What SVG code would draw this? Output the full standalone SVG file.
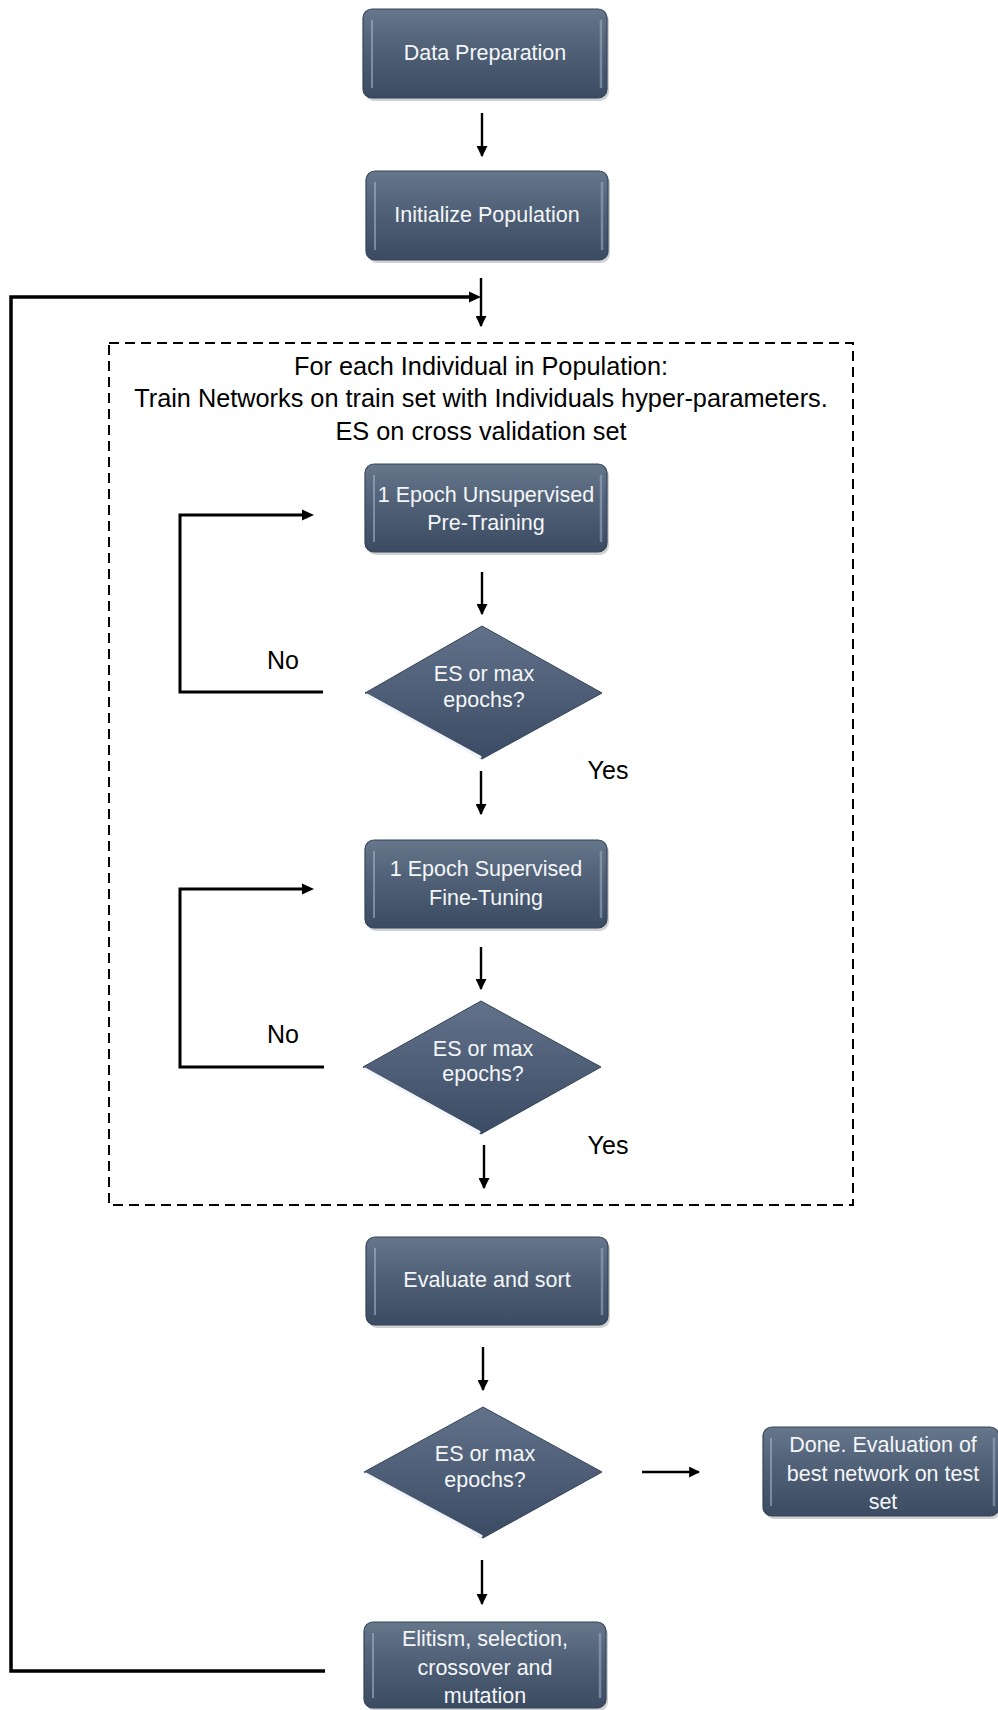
<svg xmlns="http://www.w3.org/2000/svg" width="998" height="1710" viewBox="0 0 998 1710">
<style>
.box{fill:url(#gBox);stroke:#34445a;stroke-width:1.2}
.shadow{fill:#000;opacity:0.18}
.hl{stroke:#a9b9cd;stroke-width:2;fill:none;opacity:0.55}
.hr{stroke:#9aabc0;stroke-width:2.5;fill:none;opacity:0.6}
.dia{fill:url(#gDia);stroke:#34445a;stroke-width:1}
.bevel{stroke:#f2f5f9;stroke-width:3;fill:none;stroke-linecap:round}
.t{font-family:"Liberation Sans",Arial,sans-serif;font-size:21.5px;fill:#f4f6f8;text-anchor:middle}
.lbl{font-family:"Liberation Sans",Arial,sans-serif;font-size:25px;fill:#000;text-anchor:middle}
.hdr{font-family:"Liberation Sans",Arial,sans-serif;font-size:25.3px;fill:#000;text-anchor:middle}
.arr{stroke:#000;stroke-width:2.4;fill:none;marker-end:url(#ah)}
.loop{stroke:#000;stroke-width:3.5;fill:none}
.dash{stroke:#000;stroke-width:2;fill:none;stroke-dasharray:10 6}
</style>
<defs>
<linearGradient id="gBox" x1="0" y1="0" x2="0" y2="1">
<stop offset="0" stop-color="#66768b"/>
<stop offset="0.5" stop-color="#4d5e75"/>
<stop offset="1" stop-color="#3a4b62"/>
</linearGradient>
<linearGradient id="gDia" x1="0" y1="0" x2="0" y2="1">
<stop offset="0" stop-color="#62728a"/>
<stop offset="1" stop-color="#3a4b63"/>
</linearGradient>
<marker id="ah" viewBox="0 0 10 10" refX="9" refY="5" markerWidth="11" markerHeight="11" markerUnits="userSpaceOnUse" orient="auto">
<path d="M0,0 L10,5 L0,10 z" fill="#000"/>
</marker>
</defs>

<g id="connectors">
<path class="loop" d="M325,1671 H11 V297 H472"/>
<path d="M469,291.5 L481,297 L469,302.5 z" fill="#000"/>
<line class="arr" x1="482" y1="113" x2="482" y2="156"/>
<line class="arr" x1="481" y1="278" x2="481" y2="326"/>
<line class="arr" x1="482" y1="572" x2="482" y2="614"/>
<path class="loop" style="stroke-width:3" d="M323,692 H180 V515 H304"/>
<path d="M302,509.5 L314,515 L302,520.5 z" fill="#000"/>
<line class="arr" x1="481" y1="771" x2="481" y2="814"/>
<line class="arr" x1="481" y1="947" x2="481" y2="989"/>
<path class="loop" style="stroke-width:3" d="M324,1067 H180 V889 H304"/>
<path d="M302,883.5 L314,889 L302,894.5 z" fill="#000"/>
<line class="arr" x1="484" y1="1145" x2="484" y2="1188"/>
<line class="arr" x1="483" y1="1347" x2="483" y2="1390"/>
<line class="arr" x1="642" y1="1472" x2="699" y2="1472"/>
<line class="arr" x1="482" y1="1560" x2="482" y2="1604"/>
</g>

<g id="loopbox">
<rect class="dash" x="109" y="343" width="744" height="862"/>
<text class="hdr" x="481" y="375">For each Individual in Population:</text>
<text class="hdr" x="481" y="407">Train Networks on train set with Individuals hyper-parameters.</text>
<text class="hdr" x="481" y="440">ES on cross validation set</text>
</g>

<g id="n1">
<rect class="shadow" x="365" y="12" width="244" height="89" rx="9"/>
<rect class="box" x="363" y="9" width="244" height="89" rx="9"/>
<line class="hl" x1="372" y1="20" x2="372" y2="88"/>
<line class="hr" x1="601" y1="20" x2="601" y2="88"/>
<text class="t" x="485" y="60">Data Preparation</text>
</g>

<g id="n2">
<rect class="shadow" x="368" y="174" width="242" height="89" rx="9"/>
<rect class="box" x="366" y="171" width="242" height="89" rx="9"/>
<line class="hl" x1="375" y1="182" x2="375" y2="250"/>
<line class="hr" x1="602" y1="182" x2="602" y2="250"/>
<text class="t" x="487" y="222">Initialize Population</text>
</g>

<g id="n3">
<rect class="shadow" x="367" y="467" width="242" height="88" rx="9"/>
<rect class="box" x="365" y="464" width="242" height="88" rx="9"/>
<line class="hl" x1="374" y1="475" x2="374" y2="542"/>
<line class="hr" x1="601" y1="475" x2="601" y2="542"/>
<text class="t" x="486" y="502">1 Epoch Unsupervised</text>
<text class="t" x="486" y="530">Pre-Training</text>
</g>

<g id="d1">
<polygon class="dia" points="482,626 602,693 482,759 365,693"/>
<polyline class="bevel" points="367,695 480,757"/>
<text class="t" x="484" y="681">ES or max</text>
<text class="t" x="484" y="707">epochs?</text>
</g>

<g id="n4">
<rect class="shadow" x="367" y="843" width="242" height="88" rx="9"/>
<rect class="box" x="365" y="840" width="242" height="88" rx="9"/>
<line class="hl" x1="374" y1="851" x2="374" y2="918"/>
<line class="hr" x1="601" y1="851" x2="601" y2="918"/>
<text class="t" x="486" y="876">1 Epoch Supervised</text>
<text class="t" x="486" y="905">Fine-Tuning</text>
</g>

<g id="d2">
<polygon class="dia" points="481,1001 601,1067 481,1134 363,1067"/>
<polyline class="bevel" points="365,1069 479,1132"/>
<text class="t" x="483" y="1056">ES or max</text>
<text class="t" x="483" y="1081">epochs?</text>
</g>

<g id="labels">
<text class="lbl" x="283" y="669">No</text>
<text class="lbl" x="283" y="1043">No</text>
<text class="lbl" x="608" y="779">Yes</text>
<text class="lbl" x="608" y="1154">Yes</text>
</g>

<g id="n5">
<rect class="shadow" x="368" y="1240" width="242" height="88" rx="9"/>
<rect class="box" x="366" y="1237" width="242" height="88" rx="9"/>
<line class="hl" x1="375" y1="1248" x2="375" y2="1315"/>
<line class="hr" x1="602" y1="1248" x2="602" y2="1315"/>
<text class="t" x="487" y="1287">Evaluate and sort</text>
</g>

<g id="d3">
<polygon class="dia" points="483,1407 602,1472 483,1538 364,1472"/>
<polyline class="bevel" points="366,1474 481,1536"/>
<text class="t" x="485" y="1461">ES or max</text>
<text class="t" x="485" y="1487">epochs?</text>
</g>

<g id="n6">
<rect class="shadow" x="765" y="1430" width="236" height="89" rx="9"/>
<rect class="box" x="763" y="1427" width="236" height="89" rx="9"/>
<line class="hl" x1="771" y1="1438" x2="771" y2="1506"/>
<line class="hr" x1="994" y1="1438" x2="994" y2="1506"/>
<text class="t" x="883" y="1452">Done. Evaluation of</text>
<text class="t" x="883" y="1481">best network on test</text>
<text class="t" x="883" y="1509">set</text>
</g>

<g id="n7">
<rect class="shadow" x="366" y="1625" width="242" height="86" rx="9"/>
<rect class="box" x="364" y="1622" width="242" height="86" rx="9"/>
<line class="hl" x1="373" y1="1633" x2="373" y2="1698"/>
<line class="hr" x1="600" y1="1633" x2="600" y2="1698"/>
<text class="t" x="485" y="1646">Elitism, selection,</text>
<text class="t" x="485" y="1675">crossover and</text>
<text class="t" x="485" y="1703">mutation</text>
</g>
</svg>
